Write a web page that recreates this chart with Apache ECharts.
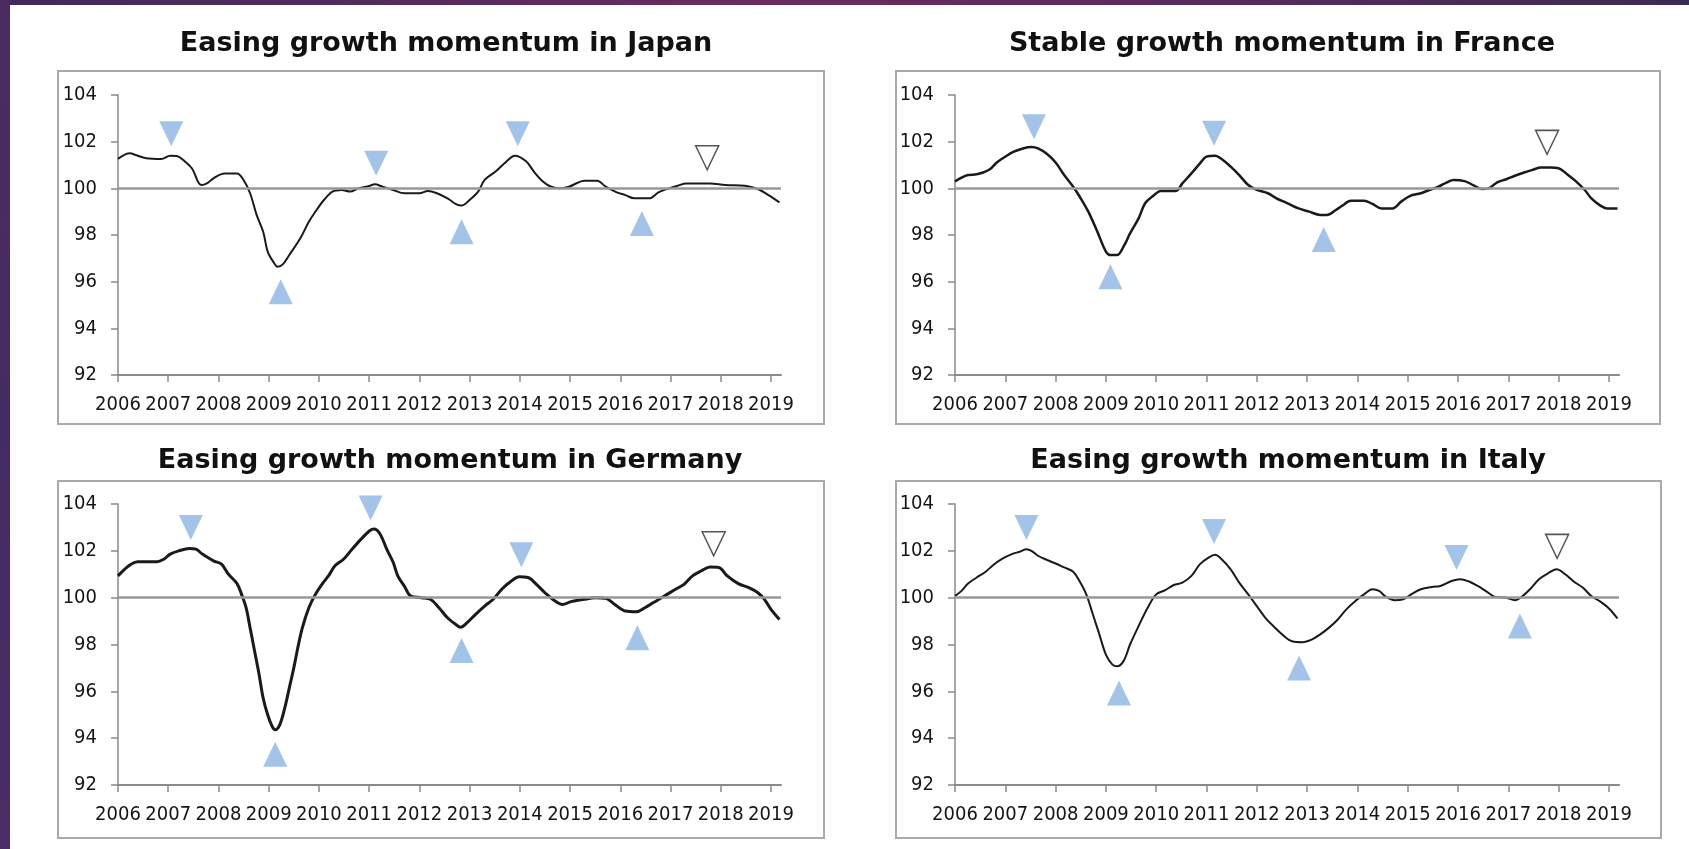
<!DOCTYPE html>
<html>
<head>
<meta charset="utf-8">
<title>Growth momentum</title>
<script src="https://cdn.jsdelivr.net/npm/echarts@6/dist/echarts.min.js"></script>
<style>
  html, body { margin: 0; padding: 0; background: #fff; }
  #bandTop { position: absolute; left: 0; top: 0; width: 1689px; height: 5px;
    background: linear-gradient(90deg, #3f2b5b, #6a2b60 45%, #5a2b5e 70%, #3b2a55); }
  #bandLeft { position: absolute; left: 0; top: 0; width: 10px; height: 849px;
    background: linear-gradient(180deg, #4d2b60, #432c63 50%, #4b2d66); }
  #main { position: absolute; left: 0; top: 0; width: 1689px; height: 849px; }
</style>
</head>
<body>
<div id="bandTop"></div>
<div id="bandLeft"></div>
<div id="main"></div>
<script>
// tick labels on the time axis
var yearTicks = [2006, 2007, 2008, 2009, 2010, 2011, 2012, 2013, 2014, 2015, 2016, 2017, 2018, 2019];

// [year, index]
var japanIndex = [[2006.0,101.26],[2006.24,101.5],[2006.35,101.43],[2006.56,101.29],[2006.86,101.26],[2007.04,101.4],[2007.17,101.39],[2007.3,101.21],[2007.47,100.86],[2007.66,100.14],[2007.77,100.21],[2007.9,100.43],[2008.12,100.64],[2008.37,100.64],[2008.5,100.36],[2008.63,99.79],[2008.76,98.86],[2008.89,98.14],[2008.98,97.29],[2009.09,96.86],[2009.18,96.64],[2009.28,96.74],[2009.41,97.14],[2009.63,97.86],[2009.8,98.57],[2009.93,99.0],[2010.1,99.5],[2010.27,99.86],[2010.45,99.93],[2010.62,99.86],[2010.79,100.0],[2011.0,100.1],[2011.11,100.17],[2011.27,100.07],[2011.48,99.93],[2011.7,99.79],[2012.0,99.79],[2012.17,99.89],[2012.35,99.79],[2012.56,99.57],[2012.74,99.31],[2012.84,99.26],[2013.0,99.5],[2013.17,99.86],[2013.3,100.36],[2013.51,100.71],[2013.73,101.14],[2013.9,101.4],[2014.12,101.17],[2014.29,100.69],[2014.46,100.29],[2014.59,100.1],[2014.77,100.0],[2014.98,100.07],[2015.15,100.24],[2015.28,100.33],[2015.54,100.33],[2015.71,100.07],[2015.93,99.83],[2016.1,99.71],[2016.28,99.57],[2016.58,99.57],[2016.76,99.83],[2016.97,100.0],[2017.14,100.11],[2017.31,100.21],[2017.79,100.21],[2018.09,100.14],[2018.48,100.11],[2018.74,99.97],[2018.95,99.71],[2019.17,99.4]];
var franceIndex = [[2006.0,100.29],[2006.13,100.46],[2006.26,100.57],[2006.43,100.6],[2006.57,100.69],[2006.7,100.83],[2006.83,101.11],[2007.0,101.36],[2007.17,101.57],[2007.35,101.71],[2007.52,101.77],[2007.65,101.71],[2007.83,101.47],[2008.0,101.11],[2008.17,100.57],[2008.35,100.07],[2008.48,99.64],[2008.65,99.0],[2008.83,98.14],[2009.0,97.29],[2009.09,97.14],[2009.22,97.14],[2009.35,97.5],[2009.48,98.07],[2009.65,98.71],[2009.78,99.36],[2009.96,99.71],[2010.09,99.89],[2010.39,99.89],[2010.52,100.21],[2010.7,100.64],[2010.87,101.07],[2011.0,101.36],[2011.17,101.4],[2011.3,101.26],[2011.48,100.93],[2011.65,100.57],[2011.83,100.14],[2012.0,99.93],[2012.22,99.79],[2012.39,99.57],[2012.61,99.36],[2012.83,99.14],[2013.04,99.0],[2013.26,98.86],[2013.39,98.86],[2013.57,99.07],[2013.7,99.26],[2013.87,99.47],[2014.13,99.47],[2014.3,99.33],[2014.48,99.14],[2014.7,99.14],[2014.87,99.43],[2015.04,99.67],[2015.26,99.79],[2015.43,99.93],[2015.61,100.07],[2015.78,100.26],[2015.91,100.36],[2016.13,100.31],[2016.3,100.14],[2016.48,99.97],[2016.61,100.0],[2016.78,100.26],[2016.96,100.39],[2017.13,100.54],[2017.3,100.67],[2017.48,100.79],[2017.65,100.89],[2017.83,100.89],[2018.0,100.86],[2018.17,100.6],[2018.35,100.29],[2018.52,99.93],[2018.65,99.57],[2018.83,99.26],[2018.96,99.14],[2019.17,99.14]];
var germanyIndex = [[2006.0,100.93],[2006.13,101.21],[2006.26,101.43],[2006.39,101.53],[2006.78,101.53],[2006.91,101.64],[2007.04,101.86],[2007.21,102.0],[2007.42,102.1],[2007.55,102.07],[2007.68,101.86],[2007.9,101.57],[2008.06,101.43],[2008.2,101.0],[2008.37,100.6],[2008.46,100.14],[2008.55,99.57],[2008.63,98.71],[2008.72,97.71],[2008.81,96.71],[2008.89,95.71],[2008.98,95.0],[2009.07,94.5],[2009.13,94.36],[2009.22,94.57],[2009.32,95.29],[2009.41,96.14],[2009.5,97.0],[2009.58,97.86],[2009.67,98.71],[2009.8,99.57],[2009.93,100.14],[2010.06,100.57],[2010.19,100.93],[2010.32,101.36],[2010.49,101.64],[2010.66,102.07],[2010.84,102.5],[2011.01,102.86],[2011.1,102.93],[2011.22,102.71],[2011.35,102.07],[2011.48,101.5],[2011.57,100.93],[2011.7,100.5],[2011.83,100.07],[2012.04,100.0],[2012.22,99.93],[2012.39,99.57],[2012.56,99.14],[2012.74,98.83],[2012.82,98.74],[2012.95,98.93],[2013.12,99.29],[2013.3,99.64],[2013.47,99.93],[2013.64,100.36],[2013.82,100.69],[2013.99,100.89],[2014.16,100.86],[2014.33,100.57],[2014.5,100.21],[2014.68,99.89],[2014.85,99.71],[2015.02,99.83],[2015.28,99.93],[2015.5,100.0],[2015.71,99.97],[2015.89,99.71],[2016.1,99.43],[2016.32,99.4],[2016.49,99.57],[2016.66,99.79],[2016.88,100.07],[2017.1,100.36],[2017.27,100.57],[2017.44,100.93],[2017.61,101.14],[2017.79,101.31],[2017.96,101.29],[2018.13,100.93],[2018.35,100.6],[2018.56,100.43],[2018.74,100.21],[2018.87,99.93],[2019.0,99.5],[2019.17,99.07]];
var italyIndex = [[2006.0,100.07],[2006.13,100.29],[2006.26,100.6],[2006.43,100.86],[2006.61,101.11],[2006.78,101.43],[2006.96,101.69],[2007.13,101.86],[2007.3,101.97],[2007.42,102.07],[2007.52,102.0],[2007.65,101.79],[2007.83,101.61],[2008.0,101.46],[2008.17,101.29],[2008.35,101.11],[2008.48,100.69],[2008.61,100.14],[2008.74,99.29],[2008.87,98.43],[2009.0,97.57],[2009.13,97.14],[2009.22,97.07],[2009.35,97.29],[2009.48,98.0],[2009.65,98.79],[2009.83,99.57],[2010.0,100.14],[2010.17,100.31],[2010.35,100.54],[2010.52,100.64],[2010.7,100.93],[2010.87,101.43],[2011.04,101.71],[2011.17,101.83],[2011.3,101.64],[2011.48,101.21],[2011.65,100.64],[2011.83,100.14],[2012.0,99.64],[2012.17,99.14],[2012.35,98.74],[2012.52,98.4],[2012.7,98.14],[2012.91,98.1],[2013.09,98.21],[2013.26,98.43],[2013.43,98.71],[2013.61,99.07],[2013.78,99.5],[2013.96,99.86],[2014.13,100.14],[2014.3,100.36],[2014.43,100.29],[2014.57,100.03],[2014.74,99.89],[2014.91,99.93],[2015.09,100.17],[2015.26,100.36],[2015.48,100.46],[2015.65,100.5],[2015.87,100.71],[2016.04,100.79],[2016.22,100.69],[2016.39,100.5],[2016.57,100.26],[2016.74,100.03],[2016.96,100.0],[2017.13,99.89],[2017.26,100.03],[2017.43,100.36],[2017.61,100.79],[2017.78,101.03],[2017.96,101.21],[2018.13,101.0],[2018.3,100.69],[2018.48,100.43],[2018.65,100.07],[2018.83,99.83],[2019.0,99.54],[2019.17,99.11]];

// turning point markers: peaks (down arrows), troughs (up arrows), latest tentative peak (hollow)
var japanPeaks = [[2007.06,102.34],[2011.14,101.07],[2013.96,102.34]];
var japanTroughs = [[2009.24,95.57],[2012.84,98.14],[2016.43,98.49]];
var japanLatest = [[2017.73,101.31]];
var francePeaks = [[2007.57,102.64],[2011.15,102.36]];
var franceTroughs = [[2009.09,96.21],[2013.33,97.81]];
var franceLatest = [[2017.77,101.97]];
var germanyPeaks = [[2007.45,103.0],[2011.03,103.83],[2014.03,101.83]];
var germanyTroughs = [[2009.13,93.31],[2012.84,97.74],[2016.34,98.29]];
var germanyLatest = [[2017.86,102.3]];
var italyPeaks = [[2007.42,103.0],[2011.15,102.83],[2015.97,101.71]];
var italyTroughs = [[2009.26,95.93],[2012.84,97.0],[2017.23,98.79]];
var italyLatest = [[2017.97,102.19]];

var panels = [
  { title: 'Easing growth momentum in Japan', line: japanIndex, peaks: japanPeaks, troughs: japanTroughs, latest: japanLatest,
    lineWidth: 2, grid: { left: 118, top: 95, width: 663, height: 280 }, frame: [58, 71, 766, 353], titleX: 446, titleY: 44 },
  { title: 'Stable growth momentum in France', line: franceIndex, peaks: francePeaks, troughs: franceTroughs, latest: franceLatest,
    lineWidth: 2.5, grid: { left: 955, top: 95, width: 664, height: 280 }, frame: [896, 71, 764, 353], titleX: 1282, titleY: 44 },
  { title: 'Easing growth momentum in Germany', line: germanyIndex, peaks: germanyPeaks, troughs: germanyTroughs, latest: germanyLatest,
    lineWidth: 3, grid: { left: 118, top: 504, width: 663, height: 281 }, frame: [58, 481, 766, 357], titleX: 450, titleY: 461 },
  { title: 'Easing growth momentum in Italy', line: italyIndex, peaks: italyPeaks, troughs: italyTroughs, latest: italyLatest,
    lineWidth: 2, grid: { left: 955, top: 504, width: 664, height: 281 }, frame: [896, 481, 765, 357], titleX: 1288, titleY: 461 }
];

var axisGrey = '#8a8a8a';
var labelStyle = { fontFamily: '"DejaVu Sans Condensed", "Liberation Sans", sans-serif', fontSize: 20, color: '#151515' };
var triBlue = '#8db4e2';

var grids = [], xAxes = [], yAxes = [], series = [], graphics = [];

panels.forEach(function (p, i) {
  grids.push(p.grid);
  xAxes.push({
    gridIndex: i, type: 'value', min: 2006, max: 2019.2,
    axisLine: { show: true, onZero: false, lineStyle: { color: axisGrey, width: 2 } },
    axisTick: { show: true, length: 7, customValues: yearTicks, lineStyle: { color: axisGrey, width: 1.5 } },
    axisLabel: Object.assign({ customValues: yearTicks, margin: 20, formatter: function (v) { return String(v); } }, labelStyle),
    splitLine: { show: false }
  });
  yAxes.push({
    gridIndex: i, type: 'value', min: 92, max: 104, interval: 2,
    axisLine: { show: true, lineStyle: { color: axisGrey, width: 1.5 } },
    axisTick: { show: true, length: 7, lineStyle: { color: axisGrey, width: 1.5 } },
    axisLabel: Object.assign({ margin: 21, padding: [3, 0, 0, 0] }, labelStyle),
    splitLine: { show: false }
  });
  // reference line at 100
  series.push({
    type: 'line', xAxisIndex: i, yAxisIndex: i, data: [], z: 1, silent: true,
    markLine: { silent: true, symbol: 'none', label: { show: false }, animation: false,
      lineStyle: { color: '#989898', width: 2.5, type: 'solid' }, data: [{ yAxis: 100 }] }
  });
  series.push({
    type: 'line', xAxisIndex: i, yAxisIndex: i, data: p.line, z: 3, silent: true,
    showSymbol: false, smooth: 0.35, lineStyle: { color: '#1a1a1a', width: p.lineWidth }
  });
  series.push({
    type: 'scatter', xAxisIndex: i, yAxisIndex: i, data: p.peaks, z: 4, silent: true,
    symbol: 'triangle', symbolRotate: 180, symbolSize: [24, 25], itemStyle: { color: triBlue }
  });
  series.push({
    type: 'scatter', xAxisIndex: i, yAxisIndex: i, data: p.troughs, z: 4, silent: true,
    symbol: 'triangle', symbolSize: [24, 25], itemStyle: { color: triBlue }
  });
  series.push({
    type: 'scatter', xAxisIndex: i, yAxisIndex: i, data: p.latest, z: 4, silent: true,
    symbol: 'triangle', symbolRotate: 180, symbolSize: [23, 24],
    itemStyle: { color: '#ffffff', borderColor: '#2a2a2a', borderWidth: 1.5 }
  });
  // panel frame and title
  graphics.push({
    type: 'rect', silent: true, z: 0,
    shape: { x: p.frame[0], y: p.frame[1], width: p.frame[2], height: p.frame[3] },
    style: { fill: 'none', stroke: '#a9a9a9', lineWidth: 2 }
  });
  graphics.push({
    type: 'text', silent: true,
    style: { text: p.title, x: p.titleX, y: p.titleY, textAlign: 'center', textVerticalAlign: 'middle',
      font: 'bold 27px "DejaVu Sans"', fill: '#111111' }
  });
});

var myChart = echarts.init(document.getElementById('main'));
myChart.setOption({
  animation: false,
  grid: grids,
  xAxis: xAxes,
  yAxis: yAxes,
  series: series,
  graphic: graphics
});
</script>
</body>
</html>
